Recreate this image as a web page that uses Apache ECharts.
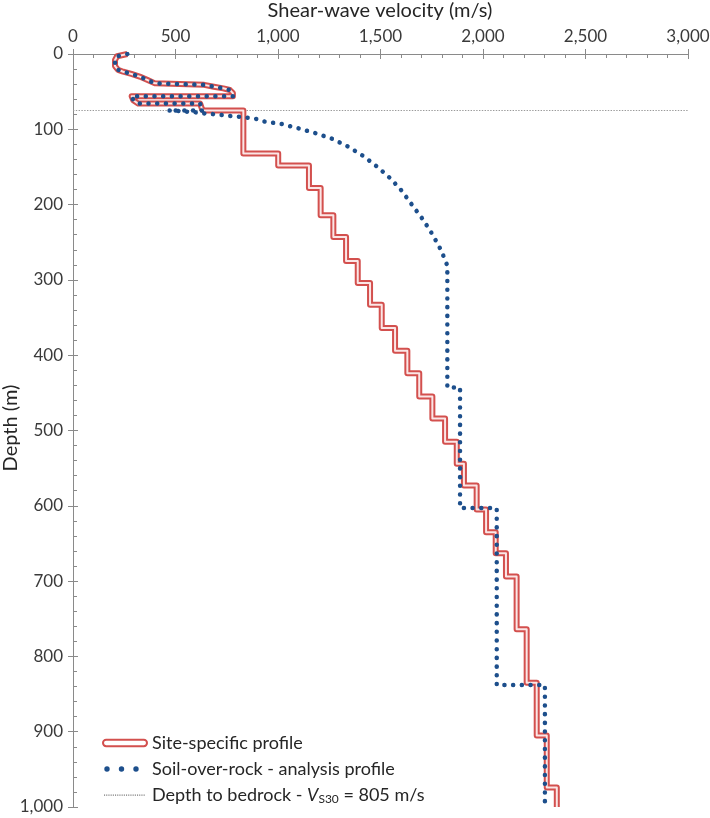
<!DOCTYPE html>
<html>
<head>
<meta charset="utf-8">
<script src="https://cdn.jsdelivr.net/npm/echarts@6/dist/echarts.min.js"></script>
<style>html,body{margin:0;padding:0;background:#fff;}#c{width:710px;height:818px;}</style>
</head>
<body>
<div id="c"></div>
<script>
// ---- Data ----
// Shared near-surface profile (0-75 m), velocity (m/s) and depth (m)
const nearSurfaceVs    = [265, 215, 205, 205, 220, 245, 285, 325, 367, 400, 640, 687, 733, 765, 780, 780, 286, 294, 318, 620, 628, 636];
const nearSurfaceDepth = [0,   3,   8,   16,  21,  23.5,26.5,30,  35,  39,  41,  43.4,45.6,47.8,52,  56,  56,  61.4,65.8,65.8,72,  75];

// Site-specific profile below bedrock: layer velocities and layer top depths
const siteVs   = [831, 1001, 1151, 1208, 1270, 1332, 1389, 1449, 1506, 1571, 1631, 1689, 1753, 1815, 1872, 1907, 1969, 2015, 2062, 2112, 2164, 2213, 2262, 2311, 2360];
const siteTops = [75,  132,  148,  178,  214,  243,  275,  304,  333,  364,  394,  424,  455,  484,  515,  544,  573,  605,  635,  663,  694,  764,  835,  905,  974];
const maxDepth = 1000;

// Soil-over-rock analysis profile: gradient part below bedrock
const rockCurveVs    = [465, 512,  555,  595,  636,  677,  725, 766,  811,  850,  896,  937,  1018, 1099, 1185,  1267,  1343,  1416,  1484,  1550,  1603,  1657,  1709,  1753,  1795,  1826];
const rockCurveDepth = [75,  75.7, 76.6, 77.4, 78.8, 79.7, 81,  82.3, 83.3, 84.6, 86.3, 89.9, 93,   98.7, 105.3, 112.9, 123.1, 135.5, 149.7, 165.6, 181.5, 201.5, 220.5, 239.4, 260.3, 281];
// Soil-over-rock deeper constant layers
const rockStepVs   = [1826, 1888, 2067, 2302];
const rockStepTops = [281,  443,  603,  838];

// Depth to bedrock line
const bedrockDepth = 75;
const velRange = [0, 3000];

// Tick labels
const xTicks = [0, 500, 1000, 1500, 2000, 2500, 3000];
const yTicks = [0, 100, 200, 300, 400, 500, 600, 700, 800, 900, 1000];

// Axis titles
const xTitle = 'Shear-wave velocity (m/s)';
const yTitle = 'Depth (m)';

// ---- Build series data ----
function stepPoints(vs, tops, bottom) {
  const pts = [];
  for (let i = 0; i < vs.length; i++) {
    const top = tops[i];
    const bot = i + 1 < tops.length ? tops[i + 1] : bottom;
    pts.push([vs[i], top]);
    pts.push([vs[i], bot]);
  }
  return pts;
}
const nearPts = nearSurfaceVs.map((v, i) => [v, nearSurfaceDepth[i]]);
const siteData = nearPts.concat(stepPoints(siteVs, siteTops, maxDepth));
const rockData = nearPts
  .concat(rockCurveVs.map((v, i) => [v, rockCurveDepth[i]]))
  .concat(stepPoints(rockStepVs, rockStepTops, maxDepth));
const bedData = [[velRange[0], bedrockDepth], [velRange[1], bedrockDepth]];

const FONT = 'Lato';
const RED = '#d3504e';
const BLUE = '#1d4f8c';
const TXT = '#262626';
const AX = '#8a8a8a';
const NAME_SITE = 'Site-specific profile';
const NAME_ROCK = 'Soil-over-rock - analysis profile';
const NAME_BED = 'Depth to bedrock - VS30 = 805 m/s';

const anchors = 'M0,0 L0,0.01 M44,8 L44,7.99 ';
const iconSite = 'path://M4,1 H40 A3,3 0 0 1 40,7 H4 A3,3 0 0 1 4,1 Z';
function circ(cx, cy, r) { return 'M' + (cx - r) + ',' + cy + ' a' + r + ',' + r + ' 0 1,0 ' + (2 * r) + ',0 a' + r + ',' + r + ' 0 1,0 ' + (-2 * r) + ',0 '; }
const iconRock = 'path://' + anchors + circ(4, 4, 2.7) + circ(18.5, 4, 2.7) + circ(33, 4, 2.7);
let dots = '';
for (let x = 1; x < 42; x += 2.2) dots += 'M' + x + ',3.6 h1.1 v1.1 h-1.1 Z ';
const iconBed = 'path://' + anchors + dots;

const axisCommon = {
  splitLine: { show: false },
  axisLine: { show: true, lineStyle: { color: AX, width: 1 } }
};

const option = {
  animation: false,
  backgroundColor: '#ffffff',
  title: {
    text: xTitle, left: 380, top: 1, padding: 0, textAlign: 'center',
    textStyle: { fontFamily: FONT, fontSize: 20, fontWeight: 'normal', color: TXT }
  },
  graphic: [{
    type: 'text', x: 11, y: 428, rotation: Math.PI / 2,
    style: { text: yTitle, fontFamily: FONT, fontSize: 20, fill: TXT, align: 'center', verticalAlign: 'middle' }
  }],
  grid: { left: 73, right: 22, top: 54, bottom: 11, containLabel: false, outerBoundsMode: 'none' },
  xAxis: [
    Object.assign({}, axisCommon, {
      type: 'value', position: 'top', min: 0, max: 3000, interval: 500,
      axisTick: { show: true, inside: false, length: 5, lineStyle: { color: AX } },
      axisLabel: { show: true, margin: 9, fontFamily: FONT, fontSize: 17, color: '#3a3a3a',
        formatter: v => xTicks.indexOf(v) >= 0 ? v.toLocaleString('en-US') : '' }
    }),
    Object.assign({}, axisCommon, {
      type: 'value', position: 'top', min: 0, max: 3000, interval: 500,
      axisLine: { show: false },
      axisTick: { show: true, inside: true, length: 5, lineStyle: { color: AX } },
      minorTick: { show: true, splitNumber: 5, length: 4, lineStyle: { color: AX } },
      axisLabel: { show: false }
    })
  ],
  yAxis: [
    Object.assign({}, axisCommon, {
      type: 'value', inverse: true, position: 'left', min: 0, max: 1000, interval: 100,
      axisTick: { show: true, inside: false, length: 5, lineStyle: { color: AX } },
      axisLabel: { show: true, margin: 10, fontFamily: FONT, fontSize: 17, color: '#3a3a3a',
        formatter: v => yTicks.indexOf(v) >= 0 ? v.toLocaleString('en-US') : '' }
    }),
    Object.assign({}, axisCommon, {
      type: 'value', inverse: true, position: 'left', min: 0, max: 1000, interval: 100,
      axisLine: { show: false },
      axisTick: { show: true, inside: true, length: 5, lineStyle: { color: AX } },
      minorTick: { show: true, splitNumber: 5, length: 4, lineStyle: { color: AX } },
      axisLabel: { show: false }
    })
  ],
  legend: {
    orient: 'vertical', left: 97, top: 728, itemGap: 6, itemWidth: 44, itemHeight: 8,
    selectedMode: false,
    textStyle: {
      fontFamily: FONT, fontSize: 18, color: TXT, lineHeight: 20,
      rich: {
        t: { fontFamily: FONT, fontSize: 18, color: TXT, lineHeight: 20 },
        i: { fontFamily: FONT, fontSize: 18, color: TXT, fontStyle: 'italic', lineHeight: 20 },
        s: { fontFamily: FONT, fontSize: 12, color: TXT, lineHeight: 20, padding: [8, 0, 0, 0] }
      }
    },
    formatter: function (name) {
      if (name === NAME_BED) return '{t|Depth to bedrock - }{i|V}{s|S30}{t| = 805 m/s}';
      return name;
    },
    data: [
      { name: NAME_SITE, icon: iconSite, itemStyle: { color: '#ffffff', borderColor: RED, borderWidth: 2 } },
      { name: NAME_ROCK, icon: iconRock, itemStyle: { color: BLUE, borderWidth: 0 } },
      { name: NAME_BED, icon: iconBed, itemStyle: { color: '#777777', borderWidth: 0 } }
    ]
  },
  series: [
    {
      name: NAME_BED, type: 'line', data: bedData, showSymbol: false, symbol: 'none',
      lineStyle: { color: '#9a9a9a', width: 1.2, type: [1.4, 1.4] }, z: 1, silent: true
    },
    {
      name: NAME_SITE, type: 'line', data: siteData, showSymbol: false, symbol: 'none',
      lineStyle: { color: RED, width: 6, join: 'round', cap: 'butt' }, z: 2, silent: true
    },
    {
      name: NAME_SITE, type: 'line', data: siteData, showSymbol: false, symbol: 'none',
      lineStyle: { color: '#fbe6e6', width: 2, join: 'round' }, z: 3, silent: true
    },
    {
      name: NAME_ROCK, type: 'line', data: rockData, showSymbol: false, symbol: 'none',
      lineStyle: { color: BLUE, width: 4.5, type: [0.1, 8.6], cap: 'round', join: 'round' }, z: 4, silent: true
    }
  ]
};

const chart = echarts.init(document.getElementById('c'), null, { renderer: 'canvas' });
chart.setOption(option);
</script>
</body>
</html>
